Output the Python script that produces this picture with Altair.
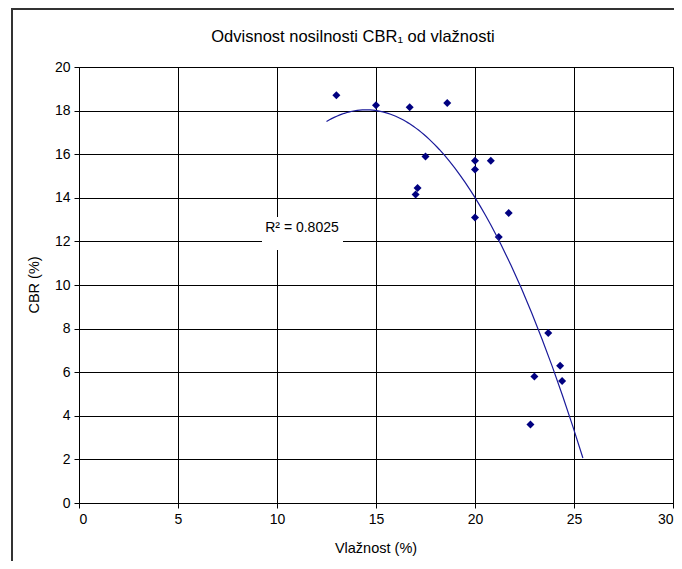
import altair as alt
import pandas as pd

# Data
moisture = [13.0, 15.0, 16.7, 18.6, 17.5, 17.1, 17.0, 20.0, 20.0, 20.8, 20.0, 21.7, 21.2, 23.7, 24.3, 24.4, 23.0, 22.8]
cbr = [18.7, 18.25, 18.15, 18.35, 15.9, 14.45, 14.15, 15.7, 15.3, 15.7, 13.1, 13.3, 12.2, 7.8, 6.3, 5.6, 5.8, 3.6]
x_ticks = [0, 5, 10, 15, 20, 25, 30]
y_ticks = [0, 2, 4, 6, 8, 10, 12, 14, 16, 18, 20]
trend_extent = [12.5, 25.45]

title_text = "Odvisnost nosilnosti CBR\u2081 od vlažnosti"
x_title = "Vlažnost (%)"
y_title = "CBR (%)"
r2_text = "R\u00b2 = 0.8025"

FONT = "Liberation Sans"
W, H = 594, 436

df = pd.DataFrame({"x": moisture, "y": cbr})
one = pd.DataFrame({"a": [0]})

xs = alt.Scale(domain=[0, 30], nice=False, zero=False)
ys = alt.Scale(domain=[0, 20], nice=False, zero=False)

x_axis = alt.Axis(values=x_ticks, title=None, grid=True, gridColor="#000000", gridWidth=1,
                  domainColor="#000000", tickColor="#000000", tickSize=5,
                  labelFont=FONT, labelFontSize=14, labelColor="#000000", labelPadding=4)
y_axis = alt.Axis(values=y_ticks, title=None, grid=True, gridColor="#000000", gridWidth=1,
                  domainColor="#000000", tickColor="#000000", tickSize=5,
                  labelFont=FONT, labelFontSize=14, labelColor="#000000", labelPadding=4)

points = alt.Chart(df).mark_point(shape="diamond", filled=True, size=64, color="#000080", opacity=1).encode(
    x=alt.X("x:Q", scale=xs, axis=x_axis),
    y=alt.Y("y:Q", scale=ys, axis=y_axis),
)

trend = alt.Chart(df).transform_regression(
    "x", "y", method="poly", order=2, extent=trend_extent
).mark_line(color="#1a1a9a", strokeWidth=1.2).encode(
    x=alt.X("x:Q", scale=xs),
    y=alt.Y("y:Q", scale=ys),
)

r2_box = alt.Chart(one).mark_rect(color="#ffffff").encode(
    x=alt.value(183), x2=alt.value(264), y=alt.value(150), y2=alt.value(183)
)
r2_label = alt.Chart(one).mark_text(text=r2_text, font=FONT, fontSize=14, color="#000000",
                                    align="center", baseline="middle").encode(
    x=alt.value(223), y=alt.value(161)
)

title = alt.Chart(one).mark_text(text=title_text, font=FONT, fontSize=16.5, color="#000000",
                                 align="center", baseline="middle").encode(
    x=alt.value(274), y=alt.value(-30)
)
xt = alt.Chart(one).mark_text(text=x_title, font=FONT, fontSize=14.5, color="#000000",
                              align="center", baseline="middle").encode(
    x=alt.value(297), y=alt.value(482)
)
yt = alt.Chart(one).mark_text(text=y_title, font=FONT, fontSize=14.5, color="#000000",
                              align="center", baseline="middle", angle=270).encode(
    x=alt.value(-44), y=alt.value(218)
)

frame_left = alt.Chart(one).mark_rule(color="#333333", strokeWidth=2, clip=False).encode(
    x=alt.value(-67), y=alt.value(-59), y2=alt.value(500)
)
frame_top = alt.Chart(one).mark_rule(color="#333333", strokeWidth=2, clip=False).encode(
    x=alt.value(-67), x2=alt.value(610), y=alt.value(-58)
)

chart = alt.layer(
    frame_left, frame_top, points, trend, r2_box, r2_label, title, xt, yt
).properties(
    width=W, height=H,
    autosize=alt.AutoSizeParams(type="none"),
    padding={"left": 71, "top": 59, "right": 1, "bottom": 58},
    background="#ffffff",
).configure_view(
    stroke="#808080", strokeWidth=1
)

chart.save("out.html", embed_options={"renderer": "svg", "actions": False})
